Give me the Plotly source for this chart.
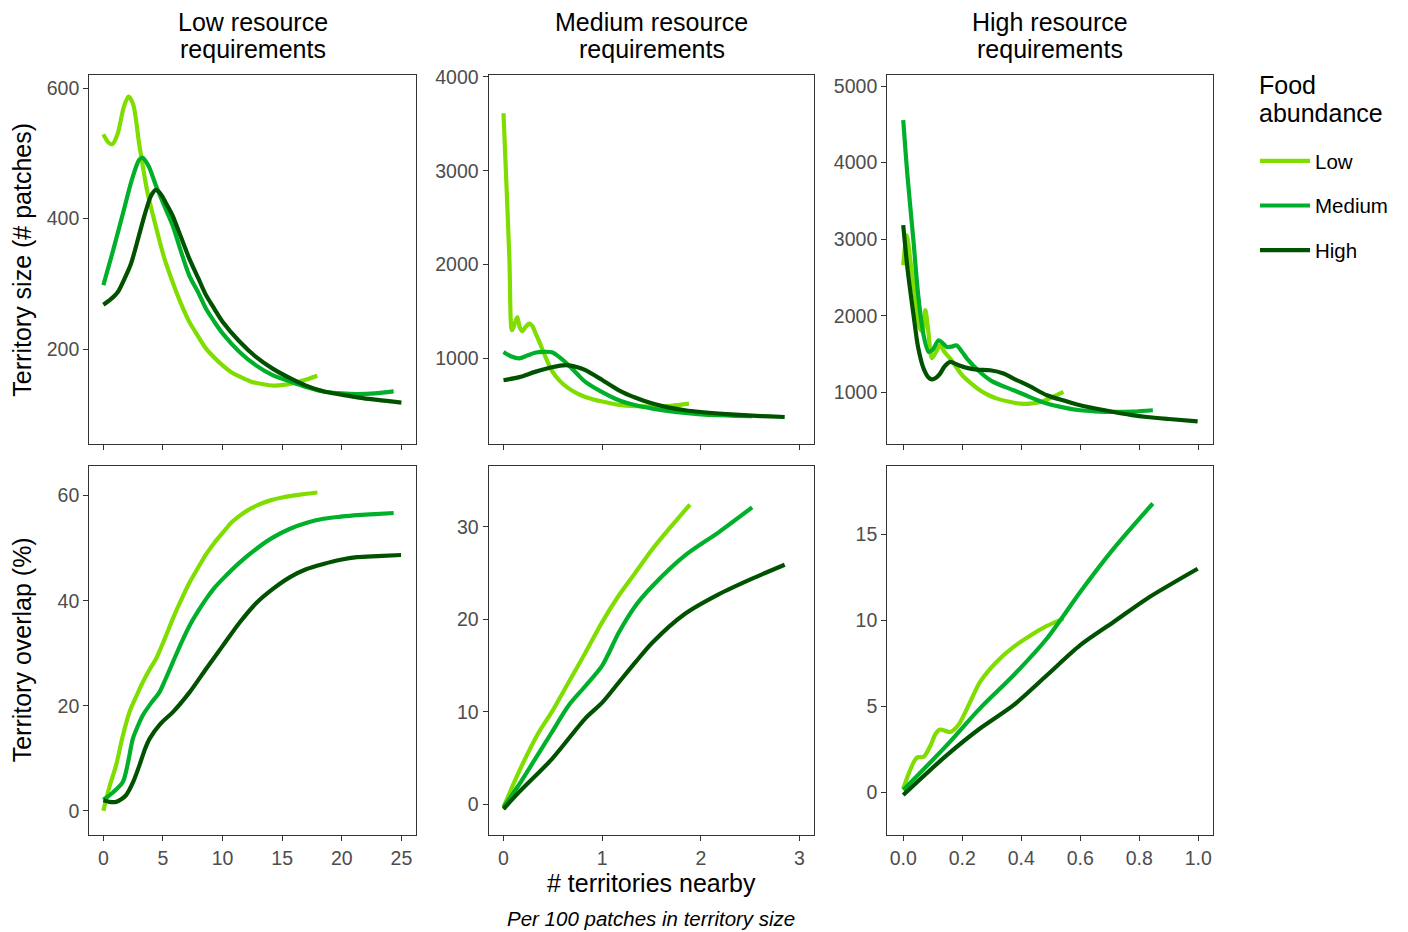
import plotly.graph_objects as go

# ---------------- data ----------------
food_levels = ["Low", "Medium", "High"]
line_colors = ["#80DD00", "#00B02A", "#005200"]
col_titles = [("Low resource", "requirements"), ("Medium resource", "requirements"), ("High resource", "requirements")]
row_titles = ["Territory size (# patches)", "Territory overlap (%)"]

# Low resource requirements - territory size
lr_size_low_x = [0, 0.4, 0.75, 1.2, 1.7, 2.1, 2.5, 3.0, 3.7, 4.4, 5.1, 5.8, 6.5, 7.2, 8.0, 8.6, 9.3, 10.0, 10.7, 11.4, 12.4, 13.4, 14.3, 15.1, 16.0, 16.8, 17.95]
lr_size_low_y = [529, 517, 514, 530, 570, 587, 575, 515, 440, 388, 340, 303, 270, 242, 218, 201, 187, 175, 165, 158, 150, 146, 144, 145, 148, 152, 159]
lr_size_med_x = [0, 0.8, 1.6, 2.4, 3.0, 3.3, 3.8, 4.4, 5.1, 5.8, 6.5, 7.2, 8.0, 8.6, 9.3, 10.0, 11.4, 12.8, 14.2, 15.7, 17.0, 18.5, 20.0, 21.3, 22.8, 24.35]
lr_size_med_y = [298, 350, 405, 460, 490, 493, 480, 451, 420, 390, 350, 313, 285, 262, 242, 224, 196, 175, 160, 150, 142, 135, 132, 131, 132, 135]
lr_size_high_x = [0, 0.6, 1.2, 1.7, 2.3, 3.0, 3.5, 4.0, 4.4, 4.8, 5.3, 5.8, 6.5, 7.2, 8.0, 8.6, 9.3, 10.0, 11.4, 12.8, 14.2, 15.7, 17.0, 18.5, 20.0, 21.3, 23.0, 25.0]
lr_size_high_y = [268, 276, 287, 305, 330, 375, 408, 435, 444, 438, 422, 405, 372, 339, 307, 283, 262, 242, 212, 188, 170, 155, 144, 135, 130, 126, 122, 118]

# Medium resource requirements - territory size
mr_size_low_x = [0, 0.03, 0.06, 0.085, 0.11, 0.14, 0.165, 0.19, 0.22, 0.26, 0.29, 0.32, 0.37, 0.42, 0.49, 0.57, 0.66, 0.75, 0.83, 1.0, 1.17, 1.35, 1.51, 1.7, 1.88]
mr_size_low_y = [3613, 2850, 2050, 1300, 1360, 1440, 1330, 1290, 1330, 1370, 1350, 1280, 1160, 1030, 870, 760, 680, 625, 589, 540, 505, 490, 485, 495, 518]
mr_size_med_x = [0, 0.08, 0.16, 0.24, 0.32, 0.4, 0.49, 0.57, 0.66, 0.75, 0.83, 1.0, 1.17, 1.34, 1.51, 1.68, 1.84, 2.0, 2.18, 2.35, 2.52]
mr_size_med_y = [1069, 1020, 1000, 1030, 1060, 1070, 1065, 1010, 927, 830, 749, 640, 554, 500, 465, 438, 418, 404, 394, 388, 383]
mr_size_high_x = [0, 0.16, 0.32, 0.49, 0.63, 0.75, 0.83, 1.0, 1.17, 1.34, 1.51, 1.68, 1.84, 2.0, 2.18, 2.35, 2.52, 2.7, 2.85]
mr_size_high_y = [767, 800, 856, 905, 927, 905, 874, 770, 660, 580, 518, 475, 447, 428, 412, 400, 390, 381, 375]

# High resource requirements - territory size
hr_size_low_x = [0, 0.012, 0.025, 0.04, 0.055, 0.065, 0.075, 0.085, 0.097, 0.11, 0.125, 0.14, 0.16, 0.2, 0.23, 0.26, 0.29, 0.318, 0.36, 0.397, 0.43, 0.465, 0.5, 0.543]
hr_size_low_y = [2662, 3050, 2700, 2250, 1850, 1800, 2075, 1800, 1450, 1520, 1617, 1530, 1440, 1226, 1120, 1030, 965, 921, 880, 856, 855, 877, 930, 1008]
hr_size_med_x = [0, 0.015, 0.035, 0.05, 0.069, 0.086, 0.1, 0.12, 0.135, 0.148, 0.165, 0.18, 0.2, 0.216, 0.26, 0.3, 0.374, 0.43, 0.487, 0.55, 0.6, 0.65, 0.713, 0.78, 0.846]
hr_size_med_y = [4556, 3800, 2967, 2300, 1748, 1530, 1560, 1683, 1640, 1596, 1600, 1617, 1530, 1444, 1269, 1150, 1030, 940, 856, 800, 769, 755, 747, 752, 769]
hr_size_high_x = [0, 0.015, 0.035, 0.05, 0.069, 0.085, 0.097, 0.11, 0.125, 0.14, 0.16, 0.18, 0.216, 0.25, 0.295, 0.34, 0.374, 0.43, 0.487, 0.55, 0.6, 0.66, 0.713, 0.77, 0.826, 0.9, 0.998]
hr_size_high_y = [3185, 2600, 2009, 1600, 1313, 1200, 1173, 1190, 1248, 1340, 1400, 1370, 1322, 1300, 1291, 1250, 1183, 1080, 965, 890, 834, 785, 747, 710, 681, 655, 625]

# Low resource requirements - overlap
lr_ovl_low_x = [0, 0.5, 1.07, 1.6, 2.19, 2.8, 3.31, 3.9, 4.43, 5.1, 5.83, 6.5, 7.24, 8.0, 8.64, 9.3, 10.04, 10.7, 11.45, 12.1, 12.85, 14.0, 15.1, 16.5, 17.95]
lr_ovl_low_y = [0.0, 4.5, 8.7, 14.0, 18.8, 22.0, 24.5, 27.0, 29.0, 32.5, 36.6, 40.0, 43.5, 46.5, 48.9, 51.0, 53.0, 54.8, 56.2, 57.2, 58.1, 59.1, 59.7, 60.2, 60.6]
lr_ovl_med_x = [0, 0.8, 1.63, 2.05, 2.47, 2.9, 3.31, 4.0, 4.71, 5.2, 5.83, 6.5, 7.24, 8.0, 8.64, 9.3, 10.04, 11.4, 12.85, 14.2, 15.66, 17.0, 18.46, 19.9, 21.27, 22.8, 24.35]
lr_ovl_med_y = [2.1, 3.5, 5.5, 9.0, 13.7, 16.2, 18.2, 20.5, 22.6, 25.0, 28.3, 31.8, 35.3, 38.2, 40.4, 42.4, 44.2, 47.2, 49.9, 52.0, 53.7, 54.8, 55.6, 56.0, 56.3, 56.5, 56.7]
lr_ovl_high_x = [0, 0.5, 1.07, 1.5, 1.91, 2.5, 3.03, 3.45, 3.87, 4.8, 5.83, 7.24, 8.64, 10.04, 11.45, 12.85, 14.25, 15.66, 17.0, 18.46, 19.9, 21.27, 23.0, 24.97]
lr_ovl_high_y = [2.0, 1.7, 1.7, 2.2, 3.0, 5.5, 8.7, 11.5, 13.7, 16.6, 18.8, 22.6, 27.1, 31.5, 35.9, 39.6, 42.3, 44.5, 46.0, 47.0, 47.8, 48.3, 48.5, 48.7]

# Medium resource requirements - overlap
mr_ovl_low_x = [0, 0.155, 0.358, 0.49, 0.66, 0.83, 1.0, 1.17, 1.34, 1.51, 1.68, 1.89]
mr_ovl_low_y = [-0.3, 3.5, 7.8, 10.0, 13.2, 16.4, 19.7, 22.6, 25.1, 27.6, 29.8, 32.4]
mr_ovl_med_x = [0, 0.155, 0.32, 0.49, 0.66, 0.83, 1.0, 1.17, 1.34, 1.51, 1.84, 2.18, 2.52]
mr_ovl_med_y = [-0.3, 2.1, 4.9, 7.8, 10.7, 12.8, 15.0, 18.6, 21.5, 23.6, 26.9, 29.4, 32.1]
mr_ovl_high_x = [0, 0.155, 0.49, 0.83, 1.0, 1.17, 1.34, 1.51, 1.84, 2.18, 2.52, 2.85]
mr_ovl_high_y = [-0.5, 1.3, 4.9, 9.3, 11.0, 13.2, 15.4, 17.5, 20.6, 22.7, 24.4, 25.9]

# High resource requirements - overlap
hr_ovl_low_x = [0, 0.046, 0.069, 0.092, 0.11, 0.125, 0.145, 0.16, 0.187, 0.227, 0.26, 0.318, 0.374, 0.43, 0.487, 0.543]
hr_ovl_low_y = [0.2, 2.0, 2.05, 2.7, 3.4, 3.64, 3.55, 3.5, 3.9, 5.25, 6.4, 7.6, 8.45, 9.1, 9.67, 10.1]
hr_ovl_med_x = [0, 0.148, 0.26, 0.374, 0.487, 0.6, 0.713, 0.846]
hr_ovl_med_y = [0.12, 2.73, 4.87, 6.8, 8.94, 11.65, 14.17, 16.8]
hr_ovl_high_x = [0, 0.148, 0.26, 0.374, 0.487, 0.6, 0.713, 0.826, 0.998]
hr_ovl_high_y = [-0.17, 2.15, 3.7, 5.06, 6.8, 8.55, 9.9, 11.26, 13.0]

panels = [
    [(lr_size_low_x, lr_size_low_y), (lr_size_med_x, lr_size_med_y), (lr_size_high_x, lr_size_high_y)],
    [(mr_size_low_x, mr_size_low_y), (mr_size_med_x, mr_size_med_y), (mr_size_high_x, mr_size_high_y)],
    [(hr_size_low_x, hr_size_low_y), (hr_size_med_x, hr_size_med_y), (hr_size_high_x, hr_size_high_y)],
    [(lr_ovl_low_x, lr_ovl_low_y), (lr_ovl_med_x, lr_ovl_med_y), (lr_ovl_high_x, lr_ovl_high_y)],
    [(mr_ovl_low_x, mr_ovl_low_y), (mr_ovl_med_x, mr_ovl_med_y), (mr_ovl_high_x, mr_ovl_high_y)],
    [(hr_ovl_low_x, hr_ovl_low_y), (hr_ovl_med_x, hr_ovl_med_y), (hr_ovl_high_x, hr_ovl_high_y)],
]

x_ranges = [[-1.18, 26.2], [-0.15, 3.15], [-0.054, 1.05]]
x_ticks = [[0, 5, 10, 15, 20, 25], [0, 1, 2, 3], [0, 0.2, 0.4, 0.6, 0.8, 1.0]]
x_ticktext = [["0", "5", "10", "15", "20", "25"], ["0", "1", "2", "3"], ["0.0", "0.2", "0.4", "0.6", "0.8", "1.0"]]
y_ranges = [[54, 620], [84, 4021], [325, 5144], [-4.6, 65.7], [-3.3, 36.6], [-2.5, 19.0]]
y_ticks = [[200, 400, 600], [1000, 2000, 3000, 4000], [1000, 2000, 3000, 4000, 5000],
           [0, 20, 40, 60], [0, 10, 20, 30], [0, 5, 10, 15]]

# ---------------- layout geometry (screen pixels) ----------------
OX, OY = 8, 8          # page body margin
W, H = 1400, 924       # figure size so that it fits the window
col_px = [(89.3, 415.7), (488.7, 814.3), (887.3, 1213.0)]
row_px = [(75.0, 444.3), (465.7, 835.0)]


def px(x):
    return (x - OX) / W


def py(y):
    return 1 - (y - OY) / H


FONT = "Liberation Sans, Arial, sans-serif"
TICK_COLOR = "#4D4D4D"
TITLE_SIZE = 25

fig = go.Figure()
layout = dict(width=W, height=H, margin=dict(l=0, r=0, t=0, b=0, autoexpand=False),
              paper_bgcolor="white", plot_bgcolor="white",
              font=dict(family=FONT, color="black"), annotations=[])


def note(text, x, y, size, xanchor="center", angle=0):
    layout["annotations"].append(dict(
        text=text, x=px(x), y=py(y), xref="paper", yref="paper",
        xanchor=xanchor, yanchor="middle", textangle=angle, showarrow=False,
        borderpad=0, font=dict(size=size, family=FONT, color="black")))


for i in range(6):
    r, c = divmod(i, 3)
    idx = "" if i == 0 else str(i + 1)
    xa = "x" + idx
    ya = "y" + idx
    for k, (xs, ys) in enumerate(panels[i]):
        fig.add_trace(go.Scatter(
            x=xs, y=ys, mode="lines", xaxis=xa, yaxis=ya,
            line=dict(color=line_colors[k], width=4.2, shape="spline", smoothing=0.8),
            name=food_levels[k], legendgroup=food_levels[k],
            showlegend=(i == 0), hoverinfo="skip"))
    x0, x1 = col_px[c]
    y0, y1 = row_px[r]
    common = dict(showline=True, mirror=True, linecolor="#333333", linewidth=1.3,
                  ticks="outside", ticklen=5, tickwidth=1.2, tickcolor="#333333",
                  showgrid=False, zeroline=False,
                  tickfont=dict(size=19.5, color=TICK_COLOR, family=FONT))
    layout["xaxis" + idx] = dict(domain=[px(x0), px(x1)], anchor=ya, range=x_ranges[c],
                                 tickvals=x_ticks[c], ticktext=x_ticktext[c],
                                 showticklabels=(r == 1), **common)
    layout["yaxis" + idx] = dict(domain=[py(y1), py(y0)], anchor=xa, range=y_ranges[i],
                                 tickvals=y_ticks[i], **common)

# column titles (two lines each)
for c in range(3):
    cx = (col_px[c][0] + col_px[c][1]) / 2
    note(col_titles[c][0], cx, 22, TITLE_SIZE)
    note(col_titles[c][1], cx, 49, TITLE_SIZE)

# row (y-axis) titles
for r in range(2):
    cy = (row_px[r][0] + row_px[r][1]) / 2
    note(row_titles[r], 22, cy, TITLE_SIZE, angle=-90)

# x-axis title and caption
note("# territories nearby", 651, 883, TITLE_SIZE)
note("<i>Per 100 patches in territory size</i>", 651, 918, 20.5)

# legend title
note("Food", 1258, 85, TITLE_SIZE, xanchor="left")
note("abundance", 1258, 113, TITLE_SIZE, xanchor="left")

layout["legend"] = dict(
    x=px(1255), y=py(141), xanchor="left", yanchor="top",
    font=dict(size=20.5, family=FONT, color="black"),
    tracegroupgap=15, itemwidth=50, bgcolor="rgba(0,0,0,0)")

fig.update_layout(**layout)
fig.write_html("out.html")
